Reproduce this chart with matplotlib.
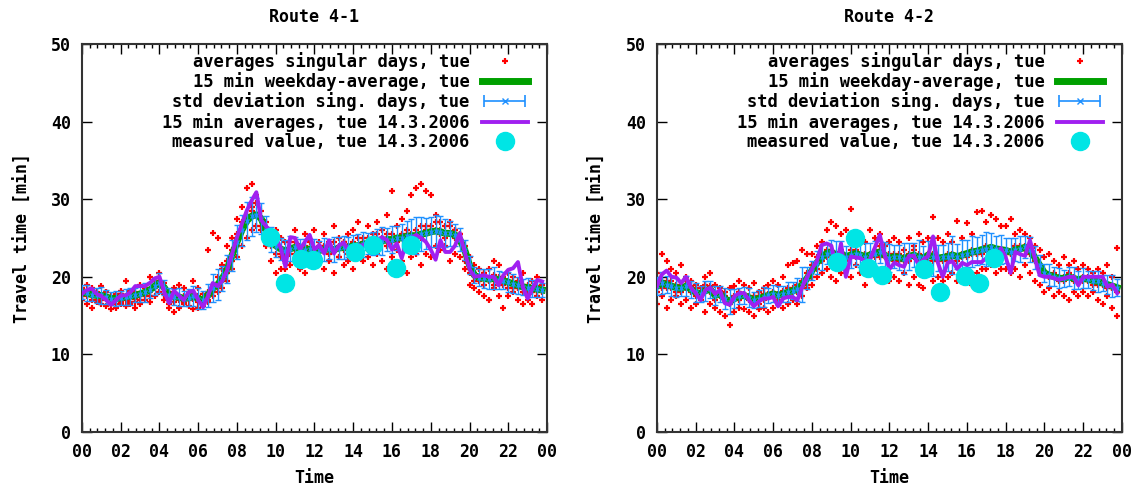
import numpy as np
import matplotlib
matplotlib.use("Agg")
import matplotlib.pyplot as plt
from matplotlib.ticker import MultipleLocator
from matplotlib.legend_handler import HandlerErrorbar
from matplotlib.container import ErrorbarContainer

# 15 min slots, hours of the day
hours = np.arange(96) * 0.25
tick_labels = ["00", "02", "04", "06", "08", "10", "12", "14", "16", "18", "20", "22", "00"]
titles = ["Route 4-1", "Route 4-2"]

# ---- Route 4-1 ----
avg_41 = [18.0, 17.9, 17.7, 17.6, 17.6, 17.4, 17.2, 17.2, 17.3, 17.4, 17.5, 17.6,
          17.8, 18.0, 18.3, 18.8, 19.2, 18.6, 17.6, 17.4, 17.4, 17.2, 17.3, 17.5,
          17.2, 17.0, 17.6, 18.5, 19.0, 19.8, 21.0, 22.8, 24.5, 26.0, 27.2, 27.8,
          28.0, 27.5, 26.0, 24.8, 24.0, 23.6, 23.3, 23.6, 23.8, 23.5, 23.4, 23.6,
          23.5, 23.4, 23.5, 23.6, 23.5, 23.7, 23.8, 23.8, 24.0, 24.0, 24.2, 24.3,
          24.3, 24.5, 24.6, 24.8, 24.8, 25.0, 25.0, 25.2, 25.3, 25.3, 25.5, 25.6,
          25.8, 25.9, 25.8, 25.6, 25.6, 25.4, 24.8, 23.5, 21.5, 20.2, 19.9, 19.8,
          19.7, 19.8, 19.6, 19.5, 19.3, 19.1, 18.9, 18.7, 18.6, 18.5, 18.4, 18.3]
std_41 = [0.9, 1.0, 0.8, 1.0, 1.1, 0.9, 0.8, 1.0, 0.9, 1.0, 1.1, 0.9,
          1.0, 1.2, 1.0, 1.1, 1.3, 1.0, 0.9, 1.0, 1.2, 1.0, 1.1, 1.3,
          1.4, 1.2, 1.5, 1.8, 2.0, 1.6, 1.8, 2.0, 2.2, 2.0, 2.4, 2.5,
          2.2, 2.0, 1.8, 1.6, 1.5, 1.4, 1.5, 1.6, 1.3, 1.4, 1.5, 1.3,
          1.4, 1.2, 1.5, 1.3, 1.6, 1.4, 1.5, 1.3, 1.4, 1.5, 1.6, 1.4,
          1.5, 1.6, 1.8, 1.5, 1.7, 1.6, 1.8, 2.0, 2.2, 2.4, 2.2, 2.0,
          1.9, 2.1, 2.0, 1.8, 1.6, 1.4, 1.5, 1.3, 1.2, 1.0, 1.1, 1.2,
          1.3, 1.4, 1.2, 1.1, 1.3, 1.2, 1.1, 1.0, 1.2, 1.1, 1.0, 0.9]
day_41 = [17.8, 18.3, 18.5, 17.8, 17.5, 17.0, 16.4, 17.0, 17.6, 17.6, 18.0, 18.8,
          18.8, 18.8, 19.2, 19.8, 20.0, 18.0, 16.6, 18.2, 17.6, 17.0, 18.0, 18.2,
          17.0, 16.1, 17.5, 19.2, 18.8, 19.5, 20.9, 23.0, 25.1, 26.8, 28.5, 29.8,
          30.9, 27.3, 26.5, 25.9, 25.0, 23.8, 21.3, 25.1, 25.0, 23.5, 24.5, 25.4,
          23.5, 24.1, 23.0, 24.7, 23.0, 24.0, 24.4, 23.5, 23.8, 24.1, 24.0, 24.5,
          24.5, 24.8, 25.1, 24.7, 23.5, 24.3, 22.4, 24.5, 25.0, 25.4, 25.0, 24.5,
          23.5, 22.2, 24.7, 23.2, 23.2, 24.0, 25.6, 23.2, 21.0, 20.0, 20.1, 20.2,
          20.0, 20.0, 18.9, 20.2, 20.9, 21.1, 21.9, 18.7, 17.2, 18.5, 19.6, 19.4]
sing_41_a = [18.5, 19.0, 18.2, 17.0, 18.8, 18.0, 16.5, 17.5, 18.2, 19.5, 18.0, 16.8,
             19.0, 18.5, 20.0, 19.5, 20.5, 17.8, 16.0, 18.5, 19.0, 17.5, 18.0, 19.5,
             18.5, 16.5, 23.4, 25.6, 25.0, 21.5, 24.0, 25.0, 27.5, 29.0, 31.5, 32.0,
             30.5, 28.5, 27.0, 25.5, 26.0, 25.0, 22.5, 24.5, 26.0, 24.0, 25.5, 24.5,
             26.0, 24.5, 25.5, 24.0, 26.5, 25.0, 24.5, 25.5, 26.0, 27.0, 25.0, 26.5,
             25.5, 27.0, 26.0, 28.0, 31.0, 26.5, 27.5, 28.5, 30.5, 31.5, 32.0, 31.0,
             30.5, 28.0, 27.0, 26.5, 27.0, 26.0, 25.5, 22.0, 22.5, 21.5, 21.0, 20.5,
             21.0, 22.0, 21.5, 20.0, 20.5, 20.0, 19.5, 20.5, 19.0, 19.5, 20.0, 19.0]
sing_41_b = [17.0, 16.5, 16.0, 16.8, 17.0, 16.2, 15.8, 16.0, 16.5, 16.2, 16.8, 16.0,
             16.5, 17.0, 16.8, 17.5, 18.0, 17.0, 16.5, 15.5, 16.0, 16.5, 16.2, 15.8,
             16.0, 16.2, 16.8, 17.5, 18.0, 18.5, 19.5, 21.0, 22.5, 24.0, 25.0, 26.0,
             26.5, 26.0, 24.0, 22.0, 20.5, 21.0, 22.0, 21.5, 22.0, 21.0, 20.5, 22.0,
             21.5, 22.5, 21.0, 22.0, 20.5, 22.5, 21.5, 22.0, 21.0, 22.5, 22.0, 22.5,
             21.5, 23.0, 22.0, 21.0, 22.5, 23.5, 22.0, 20.5, 22.5, 23.0, 21.5, 23.0,
             22.5, 24.0, 23.5, 24.0, 22.0, 23.0, 22.5, 21.0, 19.0, 18.5, 18.0, 17.5,
             17.0, 18.5, 17.5, 16.0, 17.5, 18.0, 17.0, 16.5, 17.0, 16.5, 17.5, 17.0]
sing_41_c = [18.2, 17.5, 18.5, 17.8, 17.5, 18.0, 17.0, 17.8, 16.8, 17.5, 18.2, 17.2,
             17.5, 18.5, 17.5, 19.0, 19.5, 19.2, 18.0, 17.8, 17.0, 18.5, 17.8, 17.2,
             17.5, 17.8, 18.0, 19.0, 20.0, 21.0, 22.0, 23.5, 25.5, 27.0, 28.0, 29.0,
             29.5, 27.5, 25.5, 25.0, 24.0, 23.0, 24.5, 23.0, 24.5, 23.8, 23.0, 24.8,
             23.0, 24.0, 23.8, 24.5, 23.2, 24.0, 24.5, 23.0, 24.5, 25.0, 24.0, 25.0,
             24.0, 25.5, 24.8, 25.5, 24.5, 25.0, 25.5, 26.0, 25.0, 26.0, 26.5, 26.5,
             26.5, 27.0, 26.0, 25.5, 26.5, 25.0, 25.5, 24.0, 21.0, 20.5, 20.0, 20.5,
             19.8, 20.2, 19.5, 19.8, 19.5, 19.0, 18.5, 18.8, 18.5, 18.2, 18.8, 18.5]
sing_41_d = [17.5, 18.2, 17.0, 18.0, 16.5, 17.2, 17.5, 16.5, 17.8, 17.0, 16.5, 18.0,
             17.0, 17.5, 18.0, 18.5, 19.0, 18.5, 17.2, 16.8, 17.5, 16.8, 17.0, 17.8,
             16.8, 17.2, 17.0, 18.0, 18.8, 19.5, 20.5, 22.0, 24.0, 26.5, 27.0, 28.5,
             28.0, 26.5, 25.0, 24.0, 23.0, 22.5, 21.0, 23.5, 23.0, 22.5, 24.0, 23.0,
             23.5, 22.5, 24.0, 23.0, 24.5, 22.5, 23.5, 24.0, 23.5, 24.0, 24.5, 23.5,
             24.0, 24.5, 25.0, 24.0, 25.5, 24.5, 25.0, 25.5, 25.5, 25.0, 25.0, 26.0,
             26.0, 26.0, 25.5, 25.0, 25.5, 26.0, 24.5, 23.5, 20.5, 19.5, 19.5, 19.0,
             19.5, 19.0, 20.0, 19.0, 18.5, 18.5, 18.5, 18.0, 18.0, 18.0, 18.2, 18.0]
meas_41_h = [9.7, 10.5, 11.3, 11.9, 14.1, 15.0, 16.2, 17.0]
meas_41_v = [25.1, 19.2, 22.3, 22.2, 23.2, 24.1, 21.1, 24.1]

# ---- Route 4-2 ----
avg_42 = [18.8, 19.2, 19.0, 18.8, 18.6, 18.5, 18.8, 18.4, 18.0, 17.8, 18.2, 18.4,
          17.6, 17.8, 17.2, 16.8, 17.2, 17.5, 17.6, 17.3, 17.0, 17.2, 17.4, 17.6,
          17.8, 17.6, 17.8, 18.0, 18.2, 18.4, 19.0, 19.8, 20.8, 21.8, 22.5, 23.0,
          23.2, 22.8, 23.0, 22.6, 22.8, 23.0, 22.8, 22.6, 22.8, 23.0, 23.2, 22.8,
          22.4, 22.6, 22.5, 22.3, 22.6, 22.8, 22.5, 22.4, 22.8, 22.6, 22.4, 22.5,
          22.6, 22.8, 22.6, 22.8, 23.0, 23.2, 23.3, 23.5, 23.6, 23.8, 23.6, 23.5,
          23.4, 23.2, 23.5, 23.6, 23.8, 23.5, 22.5, 21.5, 20.5, 20.2, 20.0, 19.8,
          19.8, 20.0, 19.8, 19.6, 19.8, 19.7, 19.5, 19.4, 19.2, 19.0, 18.8, 18.6]
std_42 = [1.2, 1.4, 1.1, 1.3, 1.2, 1.0, 1.3, 1.1, 1.2, 1.0, 1.3, 1.1,
          1.2, 1.0, 1.4, 1.6, 1.2, 1.0, 1.1, 1.2, 1.0, 1.1, 1.3, 1.0,
          1.1, 1.2, 1.0, 1.3, 1.1, 1.5, 2.2, 1.4, 1.2, 1.5, 1.6, 1.4,
          1.5, 1.8, 1.6, 1.4, 1.7, 1.5, 1.6, 1.8, 1.5, 1.6, 1.4, 1.7,
          1.8, 1.5, 1.6, 2.0, 1.7, 1.5, 2.2, 1.6, 1.8, 2.5, 1.7, 1.6,
          1.8, 2.4, 1.6, 1.9, 1.7, 2.0, 1.8, 1.9, 2.2, 1.8, 1.7, 1.9,
          1.6, 1.8, 1.5, 1.7, 1.4, 1.6, 1.5, 1.3, 1.2, 1.4, 1.2, 1.3,
          1.1, 1.2, 1.4, 1.2, 1.3, 1.1, 1.2, 1.3, 1.0, 1.2, 1.4, 1.1]
day_42 = [18.8, 20.3, 20.8, 20.0, 19.9, 19.2, 20.0, 18.6, 17.9, 17.0, 18.3, 18.6,
          17.8, 18.3, 16.6, 16.4, 17.5, 17.9, 17.9, 17.0, 16.2, 16.8, 17.2, 17.2,
          17.4, 16.2, 17.2, 17.4, 17.4, 17.0, 18.7, 20.0, 21.0, 22.0, 24.1, 24.3,
          24.0, 21.3, 24.3, 20.0, 22.6, 22.5, 22.4, 22.0, 22.2, 23.8, 25.4, 22.8,
          21.0, 21.8, 21.5, 21.3, 22.7, 22.7, 21.6, 22.2, 22.7, 25.2, 21.8, 20.0,
          21.8, 22.0, 21.0, 21.8, 21.5, 21.9, 21.9, 21.9, 22.4, 23.2, 21.8, 23.7,
          22.5, 20.5, 23.2, 22.9, 22.7, 24.7, 22.4, 20.2, 20.0, 20.0, 19.8, 19.6,
          19.8, 20.0, 20.0, 18.9, 20.0, 20.0, 20.0, 20.0, 20.0, 18.7, 19.0, 17.9]
sing_42_a = [20.5, 23.0, 22.0, 21.0, 20.5, 21.5, 20.0, 19.5, 19.0, 18.5, 20.0, 20.5,
             19.0, 18.5, 18.0, 18.5, 18.8, 19.5, 19.0, 18.5, 19.2, 18.0, 18.5, 19.0,
             19.5, 19.0, 20.0, 21.5, 21.8, 22.0, 23.5, 23.0, 23.0, 24.0, 24.5, 26.0,
             27.0, 26.5, 25.5, 26.0, 28.7, 24.5, 25.5, 24.5, 26.0, 25.0, 25.5, 24.0,
             24.5, 25.0, 24.5, 23.5, 25.0, 24.0, 25.5, 24.5, 25.0, 27.7, 25.0, 24.5,
             25.5, 24.5, 27.2, 25.0, 26.9, 25.5, 28.4, 28.5, 27.0, 28.0, 27.5, 26.5,
             26.5, 27.5, 25.5, 26.0, 25.5, 25.0, 24.0, 23.5, 22.5, 23.0, 22.0, 21.5,
             22.5, 21.5, 22.0, 21.0, 21.5, 21.0, 20.5, 21.0, 20.5, 21.5, 20.0, 23.7]
sing_42_b = [16.5, 17.5, 16.0, 17.0, 17.5, 16.5, 17.0, 16.0, 16.5, 17.0, 15.5, 16.5,
             16.0, 15.5, 15.0, 13.8, 15.5, 16.0, 15.8, 15.5, 15.0, 15.8, 16.0, 15.5,
             16.0, 16.5, 16.0, 16.5, 17.0, 16.5, 17.5, 18.5, 19.0, 20.0, 20.5, 21.0,
             20.0, 19.5, 20.5, 21.0, 20.0, 21.5, 20.5, 19.0, 21.0, 20.5, 20.0, 21.0,
             19.5, 20.0, 19.5, 20.5, 19.0, 20.0, 19.0, 18.5, 20.5, 19.5, 20.0, 19.5,
             20.0, 20.5, 19.5, 20.0, 20.5, 19.0, 20.5, 21.0, 21.0, 21.5, 20.5, 21.0,
             21.0, 20.5, 21.0, 20.0, 21.5, 20.5, 19.5, 19.0, 18.0, 18.5, 17.5, 18.0,
             17.5, 17.0, 18.0, 17.5, 18.0, 17.5, 18.0, 17.0, 16.5, 17.5, 16.0, 15.0]
sing_42_c = [19.0, 18.5, 19.5, 18.5, 19.0, 18.0, 19.5, 18.8, 18.5, 17.5, 18.5, 18.8,
             17.8, 18.2, 17.5, 17.0, 17.0, 18.0, 17.8, 17.5, 16.8, 17.5, 17.8, 17.8,
             18.0, 17.8, 18.2, 18.5, 18.5, 19.0, 19.5, 20.5, 21.5, 22.5, 23.0, 23.5,
             23.5, 23.0, 23.5, 22.5, 23.5, 23.5, 22.5, 23.0, 22.5, 23.5, 24.0, 22.5,
             22.5, 22.0, 23.0, 22.0, 23.0, 23.5, 22.0, 22.5, 23.0, 22.0, 22.5, 22.5,
             22.0, 23.0, 22.5, 23.0, 22.5, 23.5, 23.0, 23.5, 24.0, 23.5, 23.5, 23.0,
             23.5, 23.0, 24.0, 24.0, 24.0, 23.5, 22.0, 21.0, 20.5, 20.0, 20.5, 19.5,
             20.0, 20.5, 19.5, 19.5, 19.5, 20.0, 19.0, 19.0, 19.5, 18.5, 18.5, 18.0]
sing_42_d = [18.0, 19.5, 18.5, 19.5, 18.0, 19.0, 18.5, 18.0, 17.5, 18.0, 19.0, 18.0,
             17.0, 17.5, 17.0, 16.5, 17.5, 17.0, 17.5, 17.0, 17.5, 16.5, 17.0, 17.5,
             17.5, 17.0, 17.5, 17.5, 18.0, 18.0, 18.5, 19.0, 20.0, 21.0, 22.0, 22.5,
             22.5, 22.0, 22.0, 22.0, 22.5, 22.5, 23.0, 22.0, 23.0, 22.5, 22.5, 23.0,
             23.0, 23.0, 22.0, 22.5, 22.0, 22.5, 23.0, 22.5, 22.0, 23.0, 22.0, 22.0,
             23.0, 22.5, 22.0, 22.5, 23.0, 23.0, 23.0, 23.0, 23.5, 23.5, 23.0, 23.5,
             23.0, 23.0, 23.5, 23.5, 23.5, 23.0, 22.5, 21.5, 20.5, 20.0, 20.0, 20.0,
             19.5, 20.0, 20.0, 19.5, 20.0, 19.5, 19.5, 19.5, 19.0, 19.0, 18.5, 18.5]
meas_42_h = [9.3, 10.2, 10.9, 11.6, 13.8, 14.6, 15.9, 16.6, 17.4]
meas_42_v = [21.9, 25.0, 21.1, 20.2, 21.0, 18.0, 20.1, 19.2, 22.4]

routes = [
    (avg_41, std_41, day_41, [sing_41_a, sing_41_b, sing_41_c, sing_41_d], meas_41_h, meas_41_v),
    (avg_42, std_42, day_42, [sing_42_a, sing_42_b, sing_42_c, sing_42_d], meas_42_h, meas_42_v),
]
legend_labels = ['averages singular days, tue', '15 min weekday-average, tue',
                 'std deviation sing. days, tue', '15 min averages, tue 14.3.2006',
                 'measured value, tue 14.3.2006']

plt.rcParams['font.family'] = ['DejaVu Sans Mono']
plt.rcParams['font.weight'] = 'bold'

fig = plt.figure(figsize=(11.37, 4.93), dpi=100)
lefts = [0.0721, 0.5778]
blue = '#1e90ff'

for k, (avg, std, day, singles, mh, mv) in enumerate(routes):
    ax = fig.add_axes([lefts[k], 0.1237, 0.409, 0.7871])
    for s in singles:
        ax.plot(hours, s, ls='none', marker='+', ms=4.5, mew=1.6, color='#ff0000', zorder=2)
    ax.plot(hours, avg, color='#00a000', lw=5, zorder=3)
    ax.errorbar(hours, avg, yerr=std, fmt='x', ms=3, color=blue, ecolor=blue,
                elinewidth=1.0, capsize=2.5, capthick=1.0, zorder=4)
    ax.plot(hours, day, color='#a020f0', lw=2.8, zorder=5)
    ax.plot(mh, mv, ls='none', marker='o', ms=13, color='#00e5e5', mec='#00e5e5', zorder=6)

    # legend proxies (gnuplot style key)
    h_red, = ax.plot([], [], ls='none', marker='+', ms=4.5, mew=1.6, color='#ff0000')
    h_grn, = ax.plot([], [], color='#00a000', lw=5)
    h_err = ax.errorbar([np.nan], [np.nan], xerr=[1.0], fmt='x', ms=5, color=blue, ecolor=blue,
                        elinewidth=1.2, capsize=4, capthick=1.2)
    h_pur, = ax.plot([], [], color='#a020f0', lw=2.8)
    h_cy, = ax.plot([], [], ls='none', marker='o', ms=13, color='#00e5e5')
    ax.legend([h_red, h_grn, h_err, h_pur, h_cy], legend_labels,
              handler_map={ErrorbarContainer: HandlerErrorbar(xerr_size=1.2)},
              loc='upper right', frameon=False, markerfirst=False, fontsize=12.3,
              handlelength=2.7, labelspacing=0.08, borderaxespad=0.05, handletextpad=0.7,
              bbox_to_anchor=(0.975, 1.0))

    ax.set_xlim(0, 24)
    ax.set_ylim(0, 50)
    ax.set_xticks(np.arange(0, 25, 2))
    ax.set_xticklabels(tick_labels)
    ax.xaxis.set_minor_locator(MultipleLocator(0.4))
    ax.set_yticks(np.arange(0, 51, 10))
    ax.tick_params(which='both', direction='in', top=True, right=True, labelsize=12, pad=8)
    ax.tick_params(which='major', length=7, width=1)
    ax.tick_params(which='minor', length=3, width=1)
    for sp in ax.spines.values():
        sp.set_linewidth(1.5)
        sp.set_color('#333333')
    ax.set_title(titles[k], fontsize=12, fontweight='bold', pad=16)
    ax.set_xlabel('Time', fontsize=12, fontweight='bold', labelpad=6)
    ax.set_ylabel('Travel time [min]', fontsize=12, fontweight='bold', labelpad=14)

fig.savefig('out.png', dpi=100)
